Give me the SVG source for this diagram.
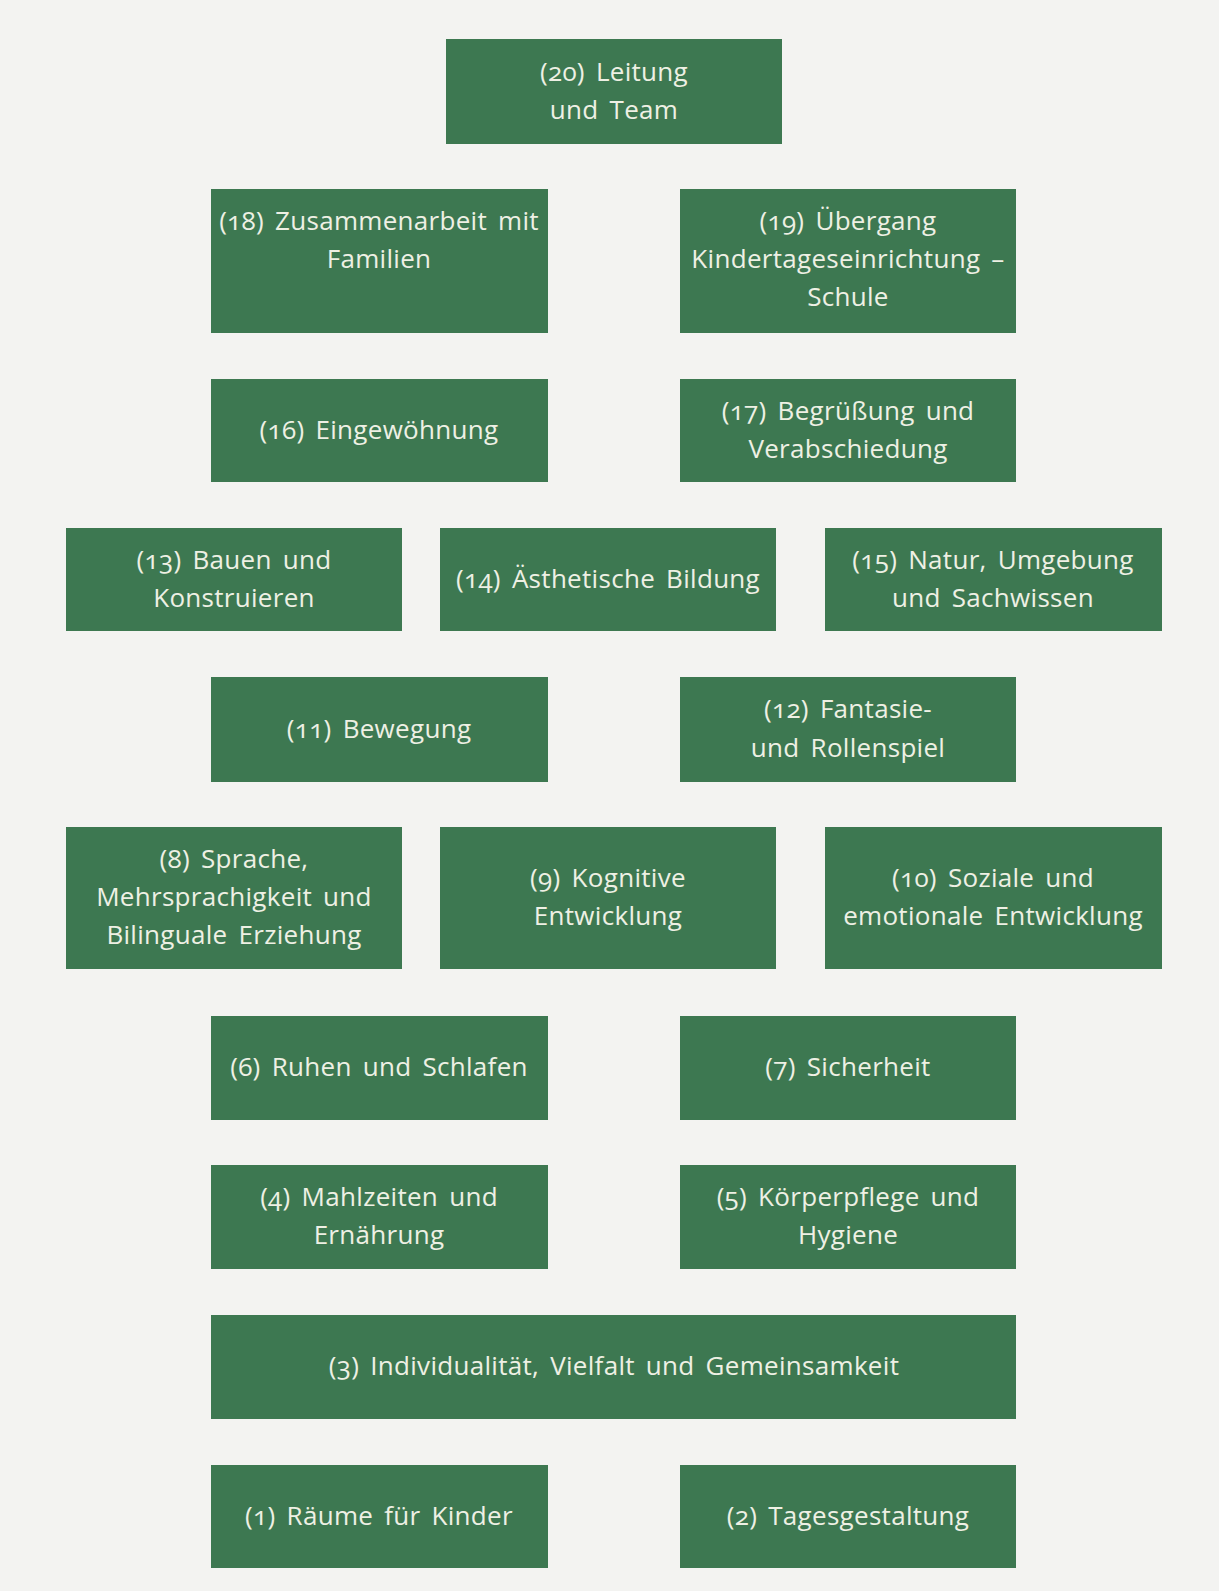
<svg xmlns="http://www.w3.org/2000/svg" width="1219" height="1591" viewBox="0 0 1219 1591">
<style>
.box{fill:#3d7851}
.t{font-family:"Open Sans","Liberation Sans",sans-serif;font-size:26px;fill:#eef0e4;text-anchor:middle;font-variant-numeric:oldstyle-nums;letter-spacing:0.3px;word-spacing:4px}
</style>
<rect width="1219" height="1591" fill="#f3f3f1"/>
<g id="connectors"></g>
<g id="n20"><rect class="box" x="446" y="39" width="336" height="105"/><text class="t" x="614" y="81">(20) Leitung</text><text class="t" x="614" y="119">und Team</text></g>
<g id="n18"><rect class="box" x="211" y="189" width="337" height="144"/><text class="t" x="379" y="230">(18) Zusammenarbeit mit</text><text class="t" x="379" y="268">Familien</text></g>
<g id="n19"><rect class="box" x="680" y="189" width="336" height="144"/><text class="t" x="848" y="230">(19) Übergang</text><text class="t" x="848" y="268">Kindertageseinrichtung –</text><text class="t" x="848" y="306">Schule</text></g>
<g id="n16"><rect class="box" x="211" y="379" width="337" height="103"/><text class="t" x="379" y="439">(16) Eingewöhnung</text></g>
<g id="n17"><rect class="box" x="680" y="379" width="336" height="103"/><text class="t" x="848" y="420">(17) Begrüßung und</text><text class="t" x="848" y="458">Verabschiedung</text></g>
<g id="n13"><rect class="box" x="66" y="528" width="336" height="103"/><text class="t" x="234" y="569">(13) Bauen und</text><text class="t" x="234" y="607">Konstruieren</text></g>
<g id="n14"><rect class="box" x="440" y="528" width="336" height="103"/><text class="t" x="608" y="588">(14) Ästhetische Bildung</text></g>
<g id="n15"><rect class="box" x="825" y="528" width="337" height="103"/><text class="t" x="993" y="569">(15) Natur, Umgebung</text><text class="t" x="993" y="607">und Sachwissen</text></g>
<g id="n11"><rect class="box" x="211" y="677" width="337" height="105"/><text class="t" x="379" y="738">(11) Bewegung</text></g>
<g id="n12"><rect class="box" x="680" y="677" width="336" height="105"/><text class="t" x="848" y="718">(12) Fantasie-</text><text class="t" x="848" y="757">und Rollenspiel</text></g>
<g id="n8"><rect class="box" x="66" y="827" width="336" height="142"/><text class="t" x="234" y="868">(8) Sprache,</text><text class="t" x="234" y="906">Mehrsprachigkeit und</text><text class="t" x="234" y="944">Bilinguale Erziehung</text></g>
<g id="n9"><rect class="box" x="440" y="827" width="336" height="142"/><text class="t" x="608" y="887">(9) Kognitive</text><text class="t" x="608" y="925">Entwicklung</text></g>
<g id="n10"><rect class="box" x="825" y="827" width="337" height="142"/><text class="t" x="993" y="887">(10) Soziale und</text><text class="t" x="993" y="925">emotionale Entwicklung</text></g>
<g id="n6"><rect class="box" x="211" y="1016" width="337" height="104"/><text class="t" x="379" y="1076">(6) Ruhen und Schlafen</text></g>
<g id="n7"><rect class="box" x="680" y="1016" width="336" height="104"/><text class="t" x="848" y="1076">(7) Sicherheit</text></g>
<g id="n4"><rect class="box" x="211" y="1165" width="337" height="104"/><text class="t" x="379" y="1206">(4) Mahlzeiten und</text><text class="t" x="379" y="1244">Ernährung</text></g>
<g id="n5"><rect class="box" x="680" y="1165" width="336" height="104"/><text class="t" x="848" y="1206">(5) Körperpflege und</text><text class="t" x="848" y="1244">Hygiene</text></g>
<g id="n3"><rect class="box" x="211" y="1315" width="805" height="104"/><text class="t" x="614" y="1375">(3) Individualität, Vielfalt und Gemeinsamkeit</text></g>
<g id="n1"><rect class="box" x="211" y="1465" width="337" height="103"/><text class="t" x="379" y="1525">(1) Räume für Kinder</text></g>
<g id="n2"><rect class="box" x="680" y="1465" width="336" height="103"/><text class="t" x="848" y="1525">(2) Tagesgestaltung</text></g>
</svg>
